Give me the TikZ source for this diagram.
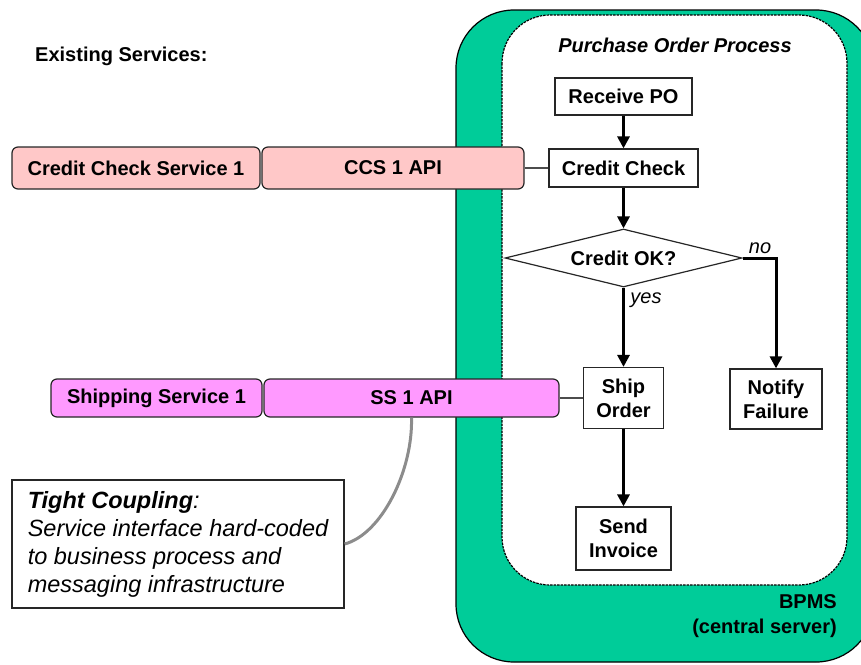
\documentclass[tikz,border=0pt]{standalone}
\usepackage{fontspec}
\setmainfont{Liberation Sans}
\usetikzlibrary{shapes.geometric,arrows.meta}
\definecolor{bpmsgreen}{RGB}{0,204,153}
\definecolor{ccspink}{RGB}{255,200,200}
\definecolor{sspink}{RGB}{255,153,255}
\begin{document}
\begin{tikzpicture}[x=1pt,y=-1pt,
  boxtext/.style={font=\fontsize{20}{24}\selectfont\bfseries},
  stepbox/.style={boxtext, draw=black!85, line width=1.2pt, fill=white, align=center, inner sep=0pt},
  pinkbox/.style={boxtext, draw=black!85, line width=1.2pt, rounded corners=6pt, inner sep=0pt},
  flowarrow/.style={line width=3pt, -{Triangle[length=12pt,width=12pt]}},
  thinlink/.style={line width=1.2pt, draw=black!70},
  graylink/.style={line width=3pt, draw=black!45},
  lbl/.style={font=\fontsize{20}{24}\selectfont\itshape, inner sep=0pt}
]
\useasboundingbox (0,0) rectangle (861,664);
% BPMS area
\draw[fill=bpmsgreen, line width=1.2pt, rounded corners=58pt] (456,10) rectangle (874,662);
\draw[fill=white, line width=1.2pt, dash pattern=on 2.5pt off 1pt, rounded corners=48pt] (502,15) rectangle (847,585);

\node[boxtext, anchor=base west, inner sep=0pt] (exist) at (35,61) {Existing Services:};
\node[boxtext, font=\fontsize{20}{24}\selectfont\bfseries\itshape, anchor=base, inner sep=0pt] (pop) at (675,52) {Purchase Order Process};
\node[boxtext, anchor=base east, inner sep=0pt] (bpms) at (837,608) {BPMS};
\node[boxtext, anchor=base east, inner sep=0pt] (bpmsb) at (837,633) {(central server)};

% services
\node[pinkbox, fill=ccspink, minimum width=248pt, minimum height=42pt] (ccs1) at (136,168) {Credit Check Service 1};
\node[pinkbox, fill=ccspink, minimum width=262pt, minimum height=42pt] (ccsapi) at (393,168) {CCS 1 API};
\node[pinkbox, fill=sspink, minimum width=211pt, minimum height=38pt] (ss1) at (156.5,398) {Shipping Service 1};
\node[pinkbox, fill=sspink, minimum width=295pt, minimum height=38pt] (ssapi) at (411.5,398) {SS 1 API};

% process
\node[stepbox, minimum width=137pt, minimum height=37pt] (rpo) at (623.5,96.5) {Receive PO};
\node[stepbox, minimum width=149pt, minimum height=38pt] (cc) at (623.5,168) {Credit Check};
\node[boxtext, diamond, draw=black!85, line width=1.2pt, fill=white, aspect=4, inner sep=0pt, minimum width=237pt, minimum height=58pt] (dia) at (623.5,258) {Credit OK?};
\node[stepbox, minimum width=80pt, minimum height=61pt] (ship) at (623.5,398) {Ship\\Order};
\node[stepbox, minimum width=92pt, minimum height=60pt] (nf) at (776,399) {Notify\\Failure};
\node[stepbox, minimum width=95pt, minimum height=63pt] (inv) at (623.5,538.5) {Send\\Invoice};

\draw[flowarrow] (rpo) -- (cc);
\draw[flowarrow] (cc) -- (dia);
\draw[flowarrow] (dia) -- (ship);
\draw[flowarrow] (dia.east) -| (nf.north);
\draw[flowarrow] (ship) -- (inv);
\node[lbl] (yes) at (646,300) {yes};
\node[lbl] (no) at (760,248) {no};

\draw[thinlink] (ccsapi.east) -- (cc.west);
\draw[thinlink] (ssapi.east) -- (ship.west);

% note
\node[draw=black!85, line width=1.2pt, fill=white, align=left, inner sep=0pt, minimum width=332pt, minimum height=128pt,
  font=\fontsize{23.5}{28}\selectfont\itshape] (tc) at (178,544)
  {\textbf{Tight Coupling}:\\Service interface hard-coded\\to business process and\\messaging infrastructure};
\draw[graylink] (tc.east) .. controls (382,534) and (413,470) .. (ssapi.south);
\end{tikzpicture}
\end{document}
